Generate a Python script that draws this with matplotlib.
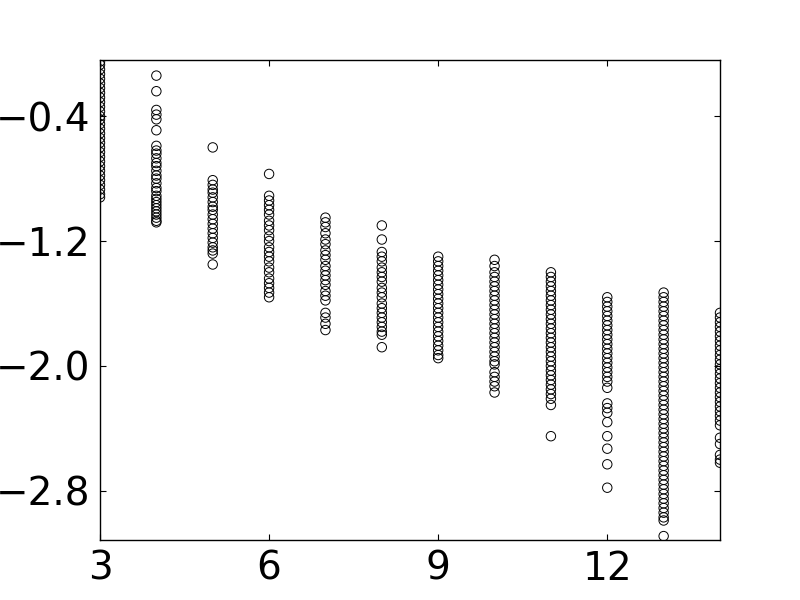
import matplotlib
matplotlib.use('Agg')
import matplotlib.pyplot as plt

# x positions (one column of points per value)
x_values = [3, 4, 5, 6, 7, 8, 9, 10, 11, 12, 13, 14]

# y values
y_3 = [-0.05, -0.07, -0.10, -0.13, -0.16, -0.19, -0.22, -0.25, -0.28, -0.31,
       -0.34, -0.37, -0.40, -0.42, -0.45, -0.48, -0.51, -0.54, -0.57, -0.60,
       -0.63, -0.66, -0.69, -0.72, -0.75, -0.78, -0.81, -0.84, -0.87, -0.90, -0.92]
y_4 = [-0.14, -0.24, -0.36, -0.39, -0.42, -0.49, -0.59, -0.62, -0.64, -0.67,
       -0.70, -0.72, -0.75, -0.78, -0.80, -0.83, -0.86, -0.88, -0.91, -0.93,
       -0.95, -0.97, -0.99, -1.01, -1.03, -1.05, -1.07, -1.08]
y_5 = [-0.60, -0.81, -0.84, -0.87, -0.89, -0.92, -0.95, -0.98, -1.00, -1.03,
       -1.06, -1.09, -1.12, -1.15, -1.18, -1.21, -1.24, -1.26, -1.28, -1.35]
y_6 = [-0.77, -0.91, -0.94, -0.97, -1.00, -1.03, -1.07, -1.10, -1.13, -1.17,
       -1.20, -1.24, -1.27, -1.30, -1.33, -1.37, -1.40, -1.44, -1.47, -1.50,
       -1.53, -1.56]
y_7 = [-1.05, -1.08, -1.11, -1.15, -1.19, -1.22, -1.26, -1.29, -1.32, -1.36,
       -1.39, -1.42, -1.45, -1.48, -1.52, -1.55, -1.58, -1.66, -1.69, -1.73, -1.77]
y_8 = [-1.10, -1.19, -1.27, -1.30, -1.33, -1.37, -1.40, -1.43, -1.46, -1.50,
       -1.53, -1.56, -1.60, -1.63, -1.66, -1.69, -1.72, -1.75, -1.78, -1.80, -1.88]
y_9 = [-1.30, -1.33, -1.36, -1.39, -1.42, -1.45, -1.48, -1.51, -1.54, -1.57,
       -1.60, -1.63, -1.66, -1.69, -1.72, -1.75, -1.78, -1.81, -1.84, -1.87,
       -1.90, -1.93, -1.95]
y_10 = [-1.32, -1.36, -1.40, -1.43, -1.46, -1.49, -1.52, -1.55, -1.58, -1.61,
        -1.64, -1.67, -1.70, -1.73, -1.76, -1.79, -1.82, -1.85, -1.88, -1.91,
        -1.94, -1.97, -1.99, -2.04, -2.07, -2.10, -2.13, -2.17]
y_11 = [-1.40, -1.43, -1.46, -1.49, -1.52, -1.55, -1.58, -1.61, -1.64, -1.67,
        -1.70, -1.73, -1.76, -1.79, -1.82, -1.85, -1.88, -1.91, -1.94, -1.97,
        -2.00, -2.03, -2.06, -2.09, -2.12, -2.15, -2.18, -2.21, -2.25, -2.45]
y_12 = [-1.56, -1.59, -1.62, -1.65, -1.68, -1.71, -1.74, -1.77, -1.80, -1.83,
        -1.86, -1.89, -1.92, -1.95, -1.98, -2.01, -2.04, -2.07, -2.10, -2.14,
        -2.24, -2.27, -2.30, -2.36, -2.45, -2.53, -2.63, -2.78]
y_13 = [-1.53, -1.56, -1.59, -1.62, -1.65, -1.68, -1.71, -1.74, -1.77, -1.80,
        -1.83, -1.86, -1.89, -1.92, -1.95, -1.98, -2.01, -2.04, -2.07, -2.10,
        -2.13, -2.16, -2.19, -2.22, -2.25, -2.28, -2.31, -2.34, -2.37, -2.40,
        -2.43, -2.46, -2.49, -2.52, -2.55, -2.58, -2.61, -2.64, -2.67, -2.70,
        -2.73, -2.76, -2.79, -2.82, -2.85, -2.88, -2.91, -2.94, -2.97, -2.99, -3.09]
y_14 = [-1.66, -1.69, -1.72, -1.75, -1.78, -1.81, -1.84, -1.87, -1.90, -1.93,
        -1.96, -1.99, -2.02, -2.05, -2.08, -2.11, -2.14, -2.17, -2.20, -2.23,
        -2.26, -2.29, -2.32, -2.35, -2.38, -2.46, -2.50, -2.57, -2.60, -2.62]

columns = [y_3, y_4, y_5, y_6, y_7, y_8, y_9, y_10, y_11, y_12, y_13, y_14]

x_ticks = [3, 6, 9, 12]
y_ticks = [-0.4, -1.2, -2.0, -2.8]

if __name__ == '__main__':
    fig = plt.figure(figsize=(8, 6), dpi=100)
    ax = fig.add_axes([0.125, 0.1, 0.775, 0.8])

    xs, ys = [], []
    for x, col in zip(x_values, columns):
        xs += [x] * len(col)
        ys += col
    ax.scatter(xs, ys, s=46, facecolors='none', edgecolors='black', linewidths=0.7)

    ax.set_xlim(3, 14)
    ax.set_ylim(-3.115, -0.04)
    ax.set_xticks(x_ticks)
    ax.set_yticks(y_ticks)
    ax.set_yticklabels(['\u22120.4', '\u22121.2', '\u22122.0', '\u22122.8'])
    ax.tick_params(direction='in', top=True, right=True, labelsize=28,
                   length=4, width=0.8, pad=7)
    for sp in ax.spines.values():
        sp.set_linewidth(1.0)

    fig.savefig('out.png', dpi=100, facecolor='white')
